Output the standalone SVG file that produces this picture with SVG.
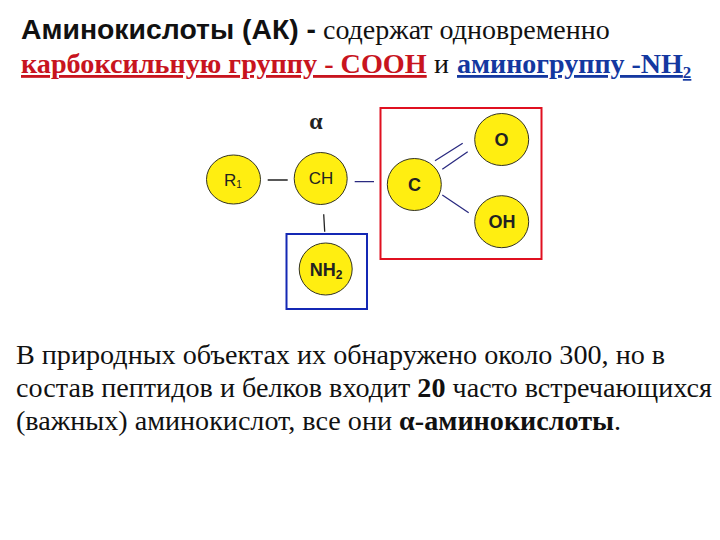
<svg xmlns="http://www.w3.org/2000/svg" width="720" height="540" viewBox="0 0 720 540">
<style>
.s{font-family:"Liberation Sans",Arial,sans-serif}
.t{font-family:"Liberation Serif","Times New Roman",serif}
.b{font-weight:bold}
.n{fill:#ffee11;stroke:#333322;stroke-width:1}
.l{font-family:"Liberation Sans",Arial,sans-serif;font-size:18px;fill:#222;text-anchor:middle}
.c{fill:none;stroke-width:1.3}
.body{font-family:"Liberation Serif","Times New Roman",serif;font-size:28.15px;fill:#111}
</style>
<rect width="720" height="540" fill="#fff"/>
<text x="21" y="39" font-size="28" class="s b" fill="#111" textLength="295" lengthAdjust="spacingAndGlyphs">Аминокислоты (АК) -</text>
<text x="323" y="39" font-size="28" class="t" fill="#111">содержат одновременно</text>
<text x="21" y="73" font-size="28.2" class="t b" fill="#c8141e" text-decoration="underline">карбоксильную группу - СООН</text>
<text x="434" y="73" font-size="28" class="t" fill="#111">и</text>
<text x="457" y="73" font-size="28" class="t b" fill="#1438a0" text-decoration="underline">аминогруппу -NH<tspan font-size="17" dy="5">2</tspan></text>
<text x="316" y="129" font-size="24" class="t b" fill="#222" text-anchor="middle">α</text>
<g id="connectors">
<path class="c" stroke="#222" d="M267.7 180H287.7M323.7 214.3L324.7 231.7"/>
<path class="c" stroke="#2a2a80" d="M354.7 181.7H374M435 160.7L462.7 143.3M442.3 169.3L467.7 151.7M442.3 195L468.7 212.7"/>
</g>
<g id="box-cooh"><rect x="380.5" y="108" width="161" height="151" fill="none" stroke="#e01020" stroke-width="2"/></g>
<g id="box-nh2"><rect x="286.5" y="234" width="80.5" height="75" fill="none" stroke="#1428b4" stroke-width="2"/></g>
<g id="node-r1"><ellipse class="n" cx="233.5" cy="179.5" rx="27" ry="24.5"/><text class="l" x="233" y="186" style="font-size:17px">R<tspan font-size="10" dy="2">1</tspan></text></g>
<g id="node-ch"><ellipse class="n" cx="320.7" cy="178.5" rx="26.5" ry="26"/><text class="l" x="321" y="184" style="font-size:17px">CH</text></g>
<g id="node-c"><ellipse class="n" cx="414.3" cy="184.5" rx="27" ry="26"/><text class="l b" x="414.5" y="191">C</text></g>
<g id="node-o"><ellipse class="n" cx="501.7" cy="139.5" rx="27" ry="26"/><text class="l b" x="501.5" y="146">O</text></g>
<g id="node-oh"><ellipse class="n" cx="501.7" cy="221.7" rx="27" ry="26"/><text class="l b" x="502" y="228">OH</text></g>
<g id="node-nh2"><ellipse class="n" cx="325.7" cy="269" rx="26.5" ry="26"/><text class="l b" x="326" y="276">NH<tspan font-size="12" dy="3">2</tspan></text></g>
<text class="body" x="16" y="364">В природных объектах их обнаружено около 300, но в</text>
<text class="body" x="16" y="397">состав пептидов и белков входит <tspan class="b">20</tspan> часто встречающихся</text>
<text class="body" x="16" y="430">(важных) аминокислот, все они <tspan class="b">α-аминокислоты</tspan>.</text>
</svg>
